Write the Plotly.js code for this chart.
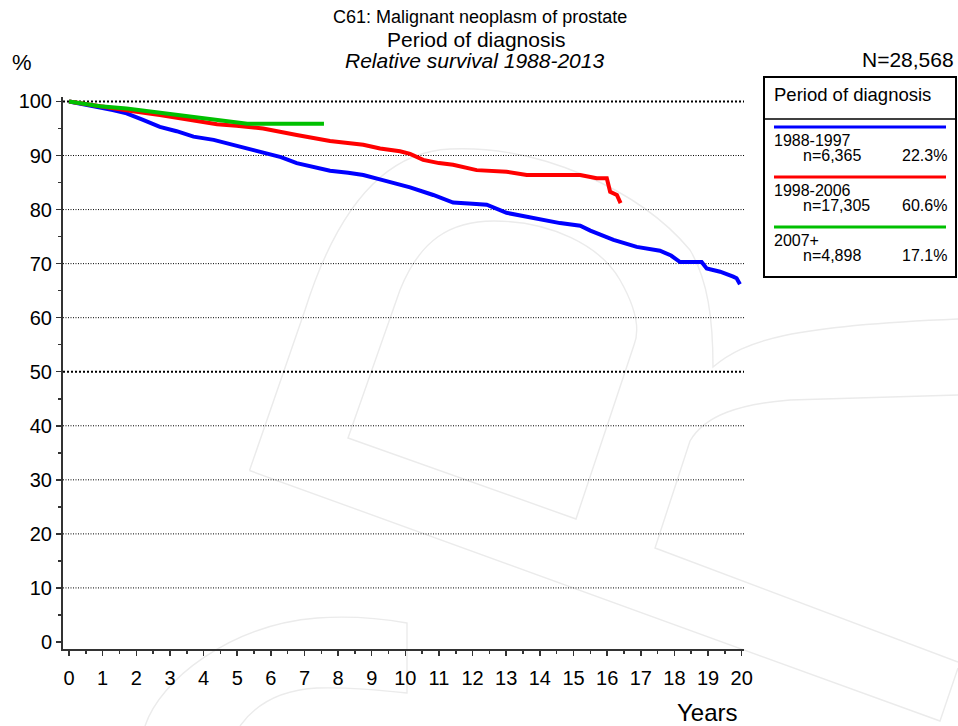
<!DOCTYPE html>
<html>
<head>
<meta charset="utf-8">
<script src="https://cdn.plot.ly/plotly-3.0.1.min.js"></script>
<style>html,body{margin:0;padding:0;background:#fff;}#chart{width:958px;height:726px;}</style>
</head>
<body>
<div id="chart"></div>
<script>
// ---------- data ----------
var seriesNames = ["1988-1997", "1998-2006", "2007+"];
var seriesCounts = ["n=6,365", "n=17,305", "n=4,898"];
var seriesShares = ["22.3%", "60.6%", "17.1%"];
var seriesColors = ["#0000ff", "#ff0000", "#00c000"];

var yearsA = [0, 0.3, 0.92, 1.3, 1.71, 2.2, 2.7, 3.2, 3.7, 4.3, 4.98, 5.4, 5.77, 6.3, 6.77, 7.3, 7.76, 8.3, 8.75, 9.3, 9.84, 10.14, 10.83, 11.42, 12.0, 12.42, 13.01, 13.5, 14.0, 14.6, 15.2, 15.5, 16.19, 16.88, 17.57, 17.9, 18.17, 18.81, 18.96, 19.36, 19.75, 19.85, 19.95];
var survA  = [100, 99.7, 98.9, 98.4, 97.8, 96.6, 95.3, 94.5, 93.5, 92.9, 91.8, 91.2, 90.7, 89.7, 88.6, 87.9, 87.2, 86.8, 86.4, 85.5, 84.7, 84.1, 82.7, 81.3, 81.1, 80.9, 79.4, 78.8, 78.1, 77.5, 77.0, 76.1, 74.4, 73.1, 72.4, 71.5, 70.3, 70.3, 69.1, 68.5, 67.6, 67.3, 66.2];

var yearsB = [0, 0.3, 0.92, 1.9, 2.7, 3.7, 4.4, 4.98, 5.77, 6.77, 7.76, 8.75, 9.25, 9.84, 10.14, 10.53, 11.0, 11.42, 12.12, 13.01, 13.61, 15.2, 15.69, 15.99, 16.09, 16.29, 16.4];
var survB  = [100, 99.7, 99.0, 98.2, 97.5, 96.6, 95.8, 95.5, 95.0, 93.8, 92.7, 92.0, 91.3, 90.8, 90.3, 89.2, 88.6, 88.3, 87.3, 87.0, 86.4, 86.4, 85.8, 85.8, 83.3, 82.7, 81.2];

var yearsC = [0, 0.3, 0.92, 1.71, 2.7, 3.7, 4.5, 5.0, 5.3, 7.58];
var survC  = [100, 99.7, 99.1, 98.7, 97.9, 97.2, 96.6, 96.1, 95.9, 95.9];

var xTicks = [0,1,2,3,4,5,6,7,8,9,10,11,12,13,14,15,16,17,18,19,20];
var yTicks = [0,10,20,30,40,50,60,70,80,90,100];
var gridVals = [10,20,30,40,50,60,70,80,90,100];
var thickGrid = [50,100];

// ---------- layout helpers (pixel -> paper) ----------
var W = 958, H = 726, ML = 63, MR = 214, MT = 97, MB = 77;
var PW = W - ML - MR, PH = H - MT - MB;
function px(x){ return (x - ML) / PW; }
function py(y){ return (H - MB - y) / PH; }

var FONT = "Liberation Sans, Arial, Helvetica, sans-serif";

var traces = [
  {x: yearsA, y: survA, name: seriesNames[0]},
  {x: yearsB, y: survB, name: seriesNames[1]},
  {x: yearsC, y: survC, name: seriesNames[2]}
].map(function(t, i){
  t.type = "scatter"; t.mode = "lines";
  t.line = {color: seriesColors[i], width: 4};
  t.hoverinfo = "skip";
  return t;
});

var shapes = [];
gridVals.forEach(function(v){
  var thick = thickGrid.indexOf(v) >= 0;
  shapes.push({type:"line", xref:"paper", yref:"y", x0:0, x1:1, y0:v, y1:v, layer:"below",
    line:{color:"#000", width: thick ? 2 : 1, dash: thick ? "2px,2px" : "1px,1.5px"}});
});

// legend box
shapes.push({type:"rect", xref:"paper", yref:"paper", x0:px(764), x1:px(956), y0:py(277), y1:py(77),
  line:{color:"#000", width:2}, fillcolor:"rgba(0,0,0,0)"});
shapes.push({type:"line", xref:"paper", yref:"paper", x0:px(764), x1:px(956), y0:py(119), y1:py(119),
  line:{color:"#000", width:1.5}});

var annotations = [];
function ann(text, x, y, size, anchor, extra){
  var a = {text:text, xref:"paper", yref:"paper", x:px(x), y:py(y), xanchor:anchor, yanchor:"middle",
    showarrow:false, font:{family:FONT, size:size, color:"#000"}, borderpad:0};
  if (extra) for (var k in extra) a[k] = extra[k];
  annotations.push(a);
}
ann("C61: Malignant neoplasm of prostate", 480, 17.5, 18, "center");
ann("Period of diagnosis", 476, 39.5, 21, "center");
ann("<i>Relative survival 1988-2013</i>", 474, 60, 21, "center");
ann("%", 11, 62.5, 22, "left");
ann("N=28,568", 955, 59.5, 21, "right");
ann("Years", 739, 712, 24, "right");
ann("Period of diagnosis", 773, 95, 18.5, "left");

seriesNames.forEach(function(nm, i){
  var base = 127 + 50 * i;
  shapes.push({type:"line", xref:"paper", yref:"paper", x0:px(774), x1:px(946), y0:py(base), y1:py(base),
    line:{color:seriesColors[i], width:3}});
  ann(nm, 773, base + 13.5, 16, "left");
  ann(seriesCounts[i], 802, base + 28.5, 16, "left");
  ann(seriesShares[i], 948, base + 28.5, 16, "right");
});

// faint watermark (decorative background logo)
var wm = '<svg xmlns="http://www.w3.org/2000/svg" width="958" height="726" viewBox="0 0 958 726">' +
  '<g fill="none" stroke="#ebebeb" stroke-width="1.4">' +
  '<path d="M249.5,470.5 L305,310 C335,215 380,152 450,149 C540,145 640,190 690,250 C708,280 713,320 713,367 C745,340 790,326 958,319"/>' +
  '<path d="M249.5,470.5 L940,721 L958,668"/>' +
  '<path d="M348,438 L400,290 C420,240 450,221 494,221 C550,221 600,245 620,280 C640,315 638,335 634,345 L576,519 Z"/>' +
  '<path d="M958,395 L790,400 C740,404 705,415 690,441 L655,548 L958,662"/>' +
  '<path d="M145,726 C160,680 230,625 317,618 C360,615 390,620 407,623 L407,693 C380,690 350,687 317,688 C280,690 255,705 240,726"/>' +
  '</g></svg>';

var layout = {
  width: W, height: H,
  margin: {l: ML, r: MR, t: MT, b: MB, pad: 0},
  paper_bgcolor: "#fff", plot_bgcolor: "rgba(0,0,0,0)",
  showlegend: false,
  font: {family: FONT, color: "#000"},
  xaxis: {
    range: [-0.18, 20.07], tickvals: xTicks, ticktext: xTicks.map(String),
    ticks: "outside", ticklen: 5, tickwidth: 1.5, tickcolor: "#333",
    showline: true, linecolor: "#333", linewidth: 2,
    showgrid: false, zeroline: false, ticklabelstandoff: 5,
    tickfont: {family: FONT, size: 20, color: "#000"},
    minor: {dtick: 0.5, tick0: 0, ticks: "outside", ticklen: 3, tickwidth: 1.5, tickcolor: "#333", showgrid: false},
    fixedrange: true
  },
  yaxis: {
    range: [-1.3, 100.83], tickvals: yTicks, ticktext: yTicks.map(String),
    ticks: "outside", ticklen: 5, tickwidth: 1.5, tickcolor: "#333",
    showline: true, linecolor: "#333", linewidth: 2,
    showgrid: false, zeroline: false,
    tickfont: {family: FONT, size: 20, color: "#000"},
    minor: {dtick: 5, tick0: 0, ticks: "outside", ticklen: 3, tickwidth: 1.5, tickcolor: "#333", showgrid: false},
    fixedrange: true
  },
  shapes: shapes,
  annotations: annotations,
  images: [{
    source: "data:image/svg+xml;charset=utf-8," + encodeURIComponent(wm),
    xref: "paper", yref: "paper", x: px(0), y: py(0), sizex: W / PW, sizey: H / PH,
    xanchor: "left", yanchor: "top", sizing: "stretch", layer: "below"
  }]
};

Plotly.newPlot("chart", traces, layout, {staticPlot: true, displayModeBar: false});
</script>
</body>
</html>
